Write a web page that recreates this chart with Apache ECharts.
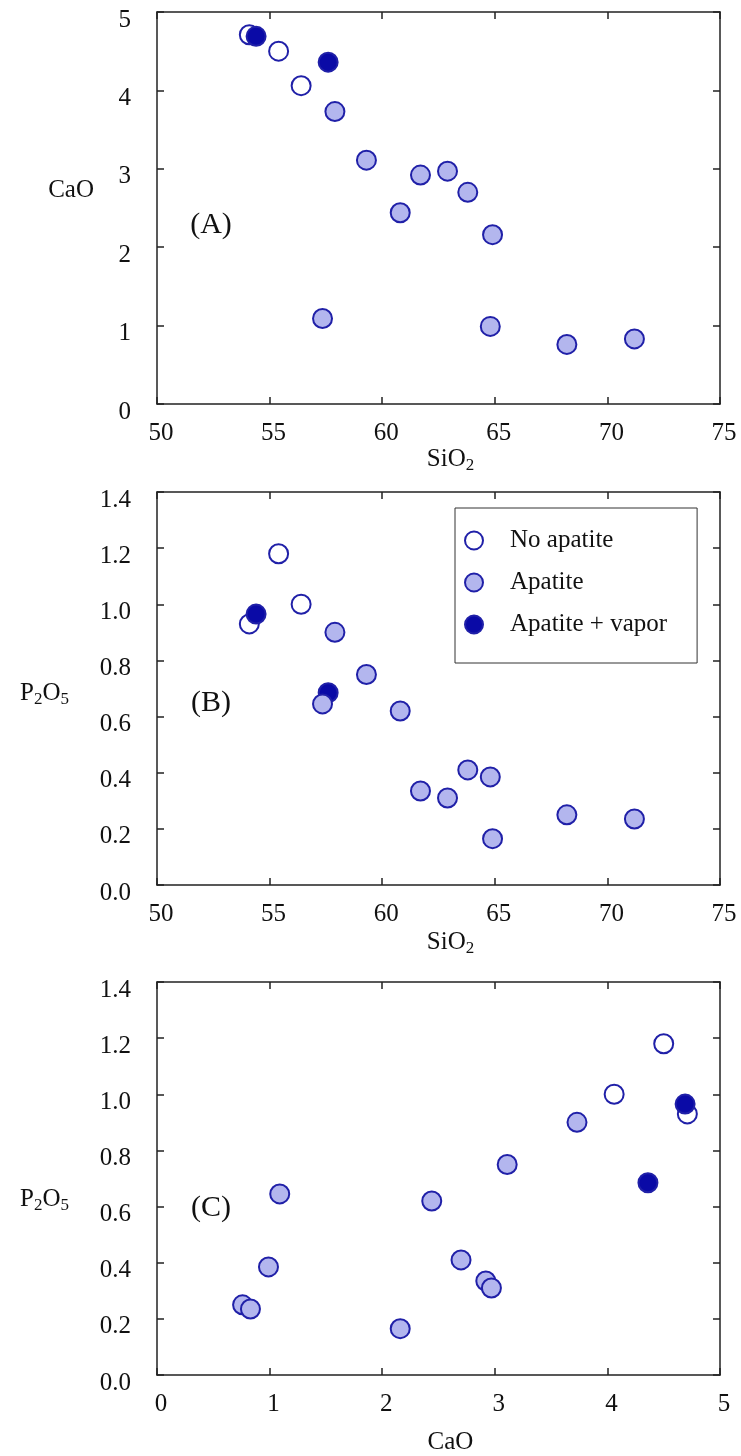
<!DOCTYPE html>
<html>
<head>
<meta charset="utf-8">
<title>CaO and P2O5 versus SiO2</title>
<script src="https://cdn.jsdelivr.net/npm/echarts@6/dist/echarts.min.js"></script>
<style>
  html, body { margin: 0; padding: 0; background: #ffffff; }
  #chart { width: 741px; height: 1456px; }
</style>
</head>
<body>
<div id="chart"></div>
<script>
// Melt compositions (wt%), grouped by run product
const noApatiteSiO2 = [54.1, 55.4, 56.4];
const noApatiteCaO  = [4.71, 4.50, 4.06];
const noApatiteP2O5 = [0.93, 1.18, 1.00];

const apatiteSiO2 = [57.9, 59.3, 61.7, 62.9, 63.8, 60.8, 64.9, 57.35, 64.8, 68.2, 71.2];
const apatiteCaO  = [3.73, 3.11, 2.92, 2.97, 2.70, 2.44, 2.16, 1.09, 0.99, 0.76, 0.83];
const apatiteP2O5 = [0.90, 0.75, 0.335, 0.31, 0.41, 0.62, 0.165, 0.645, 0.385, 0.25, 0.235];

const vaporSiO2 = [54.4, 57.6];
const vaporCaO  = [4.69, 4.36];
const vaporP2O5 = [0.965, 0.685];

// Axis ranges and tick steps
const sio2Axis = { min: 50, max: 75, interval: 5 };
const caoAxis  = { min: 0, max: 5, interval: 1 };
const p2o5Axis = { min: 0, max: 1.4, interval: 0.2 };

const panelLabels = ['(A)', '(B)', '(C)'];
const groupNames = ['No apatite', 'Apatite', 'Apatite + vapor'];

const FONT = '"Liberation Serif", "Times New Roman", serif';
const INK = '#111111';
const LINE = { color: '#222222', width: 1.5 };
const RING = '#2020a8';

const groupStyles = {
  'No apatite':      { color: '#ffffff', borderColor: RING, borderWidth: 2, opacity: 1 },
  'Apatite':         { color: '#b3b6ee', borderColor: RING, borderWidth: 2, opacity: 1 },
  'Apatite + vapor': { color: '#0a0aa6', borderColor: RING, borderWidth: 2, opacity: 1 }
};

const nameRich = {
  t: { fontFamily: FONT, fontSize: 25, color: INK },
  s: { fontFamily: FONT, fontSize: 17, color: INK, padding: [12, 0, 0, 0] }
};

const grids = [
  { left: 157, top: 12,  width: 563, height: 392 },
  { left: 157, top: 492, width: 563, height: 393 },
  { left: 157, top: 982, width: 563, height: 393 }
];

function zip(xs, ys) { return xs.map((x, i) => [x, ys[i]]); }

function xAxes(g, range, name, nameGap, fmt) {
  const base = {
    gridIndex: g, type: 'value', min: range.min, max: range.max, interval: range.interval,
    axisLine: { onZero: false, lineStyle: LINE },
    axisTick: { inside: true, length: 7, lineStyle: LINE },
    splitLine: { show: false }
  };
  return [
    Object.assign({}, base, {
      position: 'bottom',
      axisLabel: { fontFamily: FONT, fontSize: 25, color: INK, margin: 17, padding: [0, 0, 0, 8], formatter: fmt },
      name: name, nameLocation: 'middle', nameGap: nameGap,
      nameTextStyle: { rich: nameRich, padding: [0, 0, 0, 24] }
    }),
    Object.assign({}, base, { position: 'top', axisLabel: { show: false } })
  ];
}

function yAxes(g, range, name, nameGap, namePad, fmt) {
  const base = {
    gridIndex: g, type: 'value', min: range.min, max: range.max, interval: range.interval,
    axisLine: { onZero: false, lineStyle: LINE },
    axisTick: { inside: true, length: 7, lineStyle: LINE },
    splitLine: { show: false }
  };
  return [
    Object.assign({}, base, {
      position: 'left',
      axisLabel: {
        fontFamily: FONT, fontSize: 25, color: INK, margin: 26,
        verticalAlign: 'top', lineHeight: 16, formatter: fmt
      },
      name: name, nameLocation: 'middle', nameRotate: 0, nameGap: nameGap,
      nameTextStyle: { rich: nameRich, padding: namePad }
    }),
    Object.assign({}, base, { position: 'right', axisLabel: { show: false } })
  ];
}

const intFmt = v => String(Math.round(v));
const oneDec = v => v.toFixed(1);

const xAxisList = [].concat(
  xAxes(0, sio2Axis, '{t|SiO}{s|2}', 39, intFmt),
  xAxes(1, sio2Axis, '{t|SiO}{s|2}', 43, intFmt),
  xAxes(2, caoAxis, '{t|CaO}', 55, intFmt)
);
const yAxisList = [].concat(
  yAxes(0, caoAxis, '{t|CaO}', 63, [0, 0, 36, 0], intFmt),
  yAxes(1, p2o5Axis, '{t|P}{s|2}{t|O}{s|5}', 88, [10, 0, 0, 0], oneDec),
  yAxes(2, p2o5Axis, '{t|P}{s|2}{t|O}{s|5}', 88, [42, 0, 0, 0], oneDec)
);

// Each panel: [x values, y values] per group; axis index = 2 * panel (bottom / left)
const panels = [
  { 'No apatite': [noApatiteSiO2, noApatiteCaO], 'Apatite + vapor': [vaporSiO2, vaporCaO], 'Apatite': [apatiteSiO2, apatiteCaO] },
  { 'No apatite': [noApatiteSiO2, noApatiteP2O5], 'Apatite + vapor': [vaporSiO2, vaporP2O5], 'Apatite': [apatiteSiO2, apatiteP2O5] },
  { 'No apatite': [noApatiteCaO, noApatiteP2O5], 'Apatite + vapor': [vaporCaO, vaporP2O5], 'Apatite': [apatiteCaO, apatiteP2O5] }
];

const series = [];
panels.forEach((p, i) => {
  ['No apatite', 'Apatite + vapor', 'Apatite'].forEach(name => {
    series.push({
      type: 'scatter', name: name,
      xAxisIndex: 2 * i, yAxisIndex: 2 * i,
      symbol: 'circle', symbolSize: 19,
      itemStyle: groupStyles[name],
      emphasis: { disabled: true },
      data: zip(p[name][0], p[name][1])
    });
  });
});

const labelPos = [[211, 225], [211, 703], [211, 1208]];

const option = {
  backgroundColor: '#ffffff',
  animation: false,
  grid: grids,
  xAxis: xAxisList,
  yAxis: yAxisList,
  legend: {
    data: groupNames.map(n => ({ name: n, icon: 'circle' })),
    orient: 'vertical',
    left: 455, top: 508,
    padding: [20, 30, 26, 9],
    itemWidth: 18, itemHeight: 18, itemGap: 17,
    borderColor: '#333333', borderWidth: 1, borderRadius: 0,
    backgroundColor: '#ffffff',
    selectedMode: false,
    textStyle: { fontFamily: FONT, fontSize: 25, color: INK, lineHeight: 24, padding: [0, 0, 0, 22] }
  },
  graphic: panelLabels.map((t, i) => ({
    type: 'text', x: labelPos[i][0], y: labelPos[i][1],
    style: { text: t, fontFamily: FONT, fontSize: 30, fill: INK, align: 'center', verticalAlign: 'middle' }
  })),
  series: series
};

const chart = echarts.init(document.getElementById('chart'), null, { renderer: 'canvas' });
chart.setOption(option);
</script>
</body>
</html>
